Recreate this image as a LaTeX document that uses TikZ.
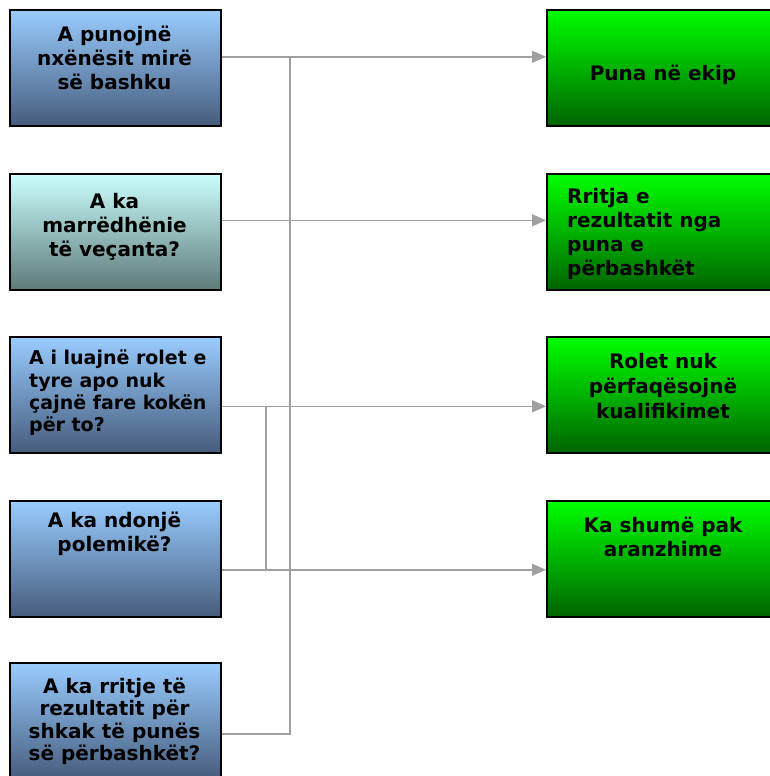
\documentclass[tikz,border=0pt]{standalone}
\usepackage{fontspec}
\setmainfont{DejaVu Sans}
\usetikzlibrary{positioning,arrows.meta}
\definecolor{qtop}{HTML}{99CCFF}
\definecolor{qbot}{HTML}{465C7C}
\definecolor{ctop}{HTML}{CCFFFF}
\definecolor{cbot}{HTML}{5C7A78}
\definecolor{gtop}{HTML}{00FF00}
\definecolor{gbot}{HTML}{006400}
\definecolor{linkgray}{HTML}{A0A0A0}

\begin{document}
\begin{tikzpicture}[x=1pt, y=-1pt,
    every node/.style={font=\bfseries\fontsize{20}{24}\selectfont},
    qbox/.style={rectangle, draw=black, line width=1.6pt, top color=qtop, bottom color=qbot, minimum width=211pt, minimum height=116pt, anchor=north west, inner sep=0pt},
    cbox/.style={qbox, top color=ctop, bottom color=cbot},
    abox/.style={qbox, top color=gtop, bottom color=gbot, minimum width=234pt},
    txt/.style={inner sep=0pt, anchor=north, align=center},
    tighttxt/.style={font=\bfseries\fontsize{20}{22.3}\selectfont},
    link/.style={draw=linkgray, line width=1.5pt},
    arr/.style={link, -{Triangle[length=14pt,width=12pt]}}]
    \clip (0,0) rectangle (770,776);
    % questions
    \node[qbox] (q1) at (9,9) {};
    \node[cbox] (q2) at (9,173) {};
    \node[qbox] (q3) at (9,336) {};
    \node[qbox] (q4) at (9,500) {};
    \node[qbox] (q5) at (9,662) {};
    % answers
    \node[abox] (a1) at (546,9) {};
    \node[abox] (a2) at (546,173) {};
    \node[abox] (a3) at (546,336) {};
    \node[abox] (a4) at (546,500) {};
    % texts
    \node[txt] (t1) at (114.5,26) {A punojnë\\nxënësit mirë\\së bashku};
    \node[txt] (t2) at (114.5,193) {A ka\\marrëdhënie\\të veçanta?};
    \node[txt, font=\bfseries\fontsize{19}{22.3}\selectfont, anchor=north west, align=left] (t3) at (29,350) {A i luajnë rolet e\\tyre apo nuk\\çajnë fare kokën\\për to?};
    \node[txt] (t4) at (114.5,512) {A ka ndonjë\\polemikë?};
    \node[txt, tighttxt] (t5) at (114.5,678) {A ka rritje të\\rezultatit për\\shkak të punës\\së përbashkët?};
    \node[txt] (s1) at (663,65) {Puna në ekip};
    \begin{scope}
        \clip (546,173) rectangle (780,280);
        \node[txt, anchor=north west, align=left] (s2) at (567,188) {Rritja e\\rezultatit nga\\puna e\\përbashkët};
    \end{scope}
    \node[txt, font=\bfseries\fontsize{20}{25}\selectfont] (s3) at (663,353) {Rolet nuk\\përfaqësojnë\\kualifikimet};
    \node[txt] (s4) at (663,517) {Ka shumë pak\\aranzhime};
    % connectors
    \coordinate (j1) at (290,56);
    \coordinate (j3) at (266,406);
    \coordinate (j4) at (266,569);
    \draw[arr] ([yshift=11pt]q1.east) -- ([yshift=11pt]a1.west);
    \draw[arr] ([yshift=11.5pt]q2.east) -- ([yshift=11.5pt]a2.west);
    \draw[arr] ([yshift=-11.5pt]q3.east) -- ([yshift=-11.5pt]a3.west);
    \draw[arr] ([yshift=-11pt]q4.east) -- ([yshift=-11pt]a4.west);
    \draw[link] ([yshift=-13pt]q5.east) -| (j1);
    \draw[link] (j3) -- (j4);
\end{tikzpicture}
\end{document}
